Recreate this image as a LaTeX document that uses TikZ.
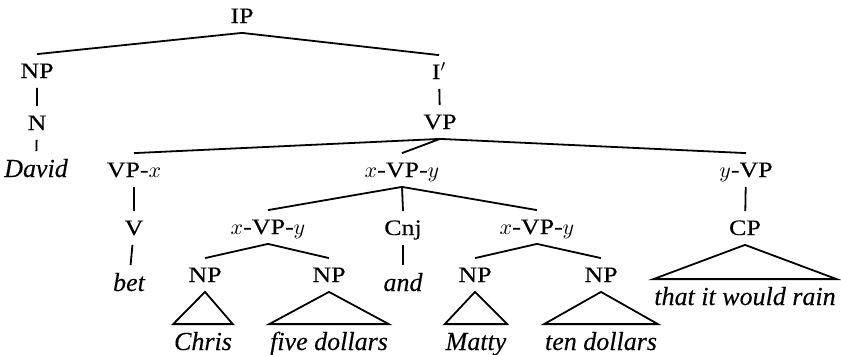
\documentclass[tikz,border=0pt]{standalone}
\usepackage{fontspec}
\setmainfont{Liberation Serif}[FakeBold=0.25]
\newfontfamily\lblfont{Liberation Serif}[FakeStretch=1.18,FakeBold=0.3]
\usepackage{tikz}

\begin{document}
\begin{tikzpicture}[x=0.5pt,y=-0.5pt,line width=0.9pt,
  l/.style={font={\lblfont\fontsize{11}{12}\selectfont},anchor=base,inner xsep=1pt,inner ysep=4.5pt,text height=7pt,text depth=0pt},
  w/.style={font={\itshape\fontsize{13}{14}\selectfont},anchor=base,inner xsep=0pt,inner ysep=3.5pt,text height=9pt,text depth=0pt}]
\useasboundingbox (0,0) rectangle (841,354);
\node[l] (ip) at (242,23) {IP};
\node[l] (np) at (37,78) {NP};
\node[l] (ib) at (439,79) {I$'$};
\node[l] (n) at (37,130) {N};
\node[l] (vp) at (440,129) {VP};
\node[w] (david) at (36,177) {David};
\node[l] (vpx) at (134,177) {VP-$x$};
\node[l] (xvpy) at (402,177) {$x$-VP-$y$};
\node[l] (yvp) at (746,177) {$y$-VP};
\node[l] (v) at (134,235) {V};
\node[l] (xl) at (268,234) {$x$-VP-$y$};
\node[l] (cnj) at (403,235) {Cnj};
\node[l] (xr) at (537,234) {$x$-VP-$y$};
\node[l] (cp) at (745,235) {CP};
\node[w] (bet) at (129,291) {bet};
\node[l] (np1) at (205,282) {NP};
\node[l] (np2) at (329,282) {NP};
\node[w] (and) at (403,291) {and};
\node[l] (np3) at (475,282) {NP};
\node[l] (np4) at (601,282) {NP};
\node[w] (rain) at (745,305) {that it would rain};
\node[w] (chris) at (203,350) {Chris};
\node[w] (five) at (329,350) {five dollars};
\node[w] (matty) at (476,350) {Matty};
\node[w] (ten) at (601,350) {ten dollars};
\draw (ip.south)--(np.north) (ip.south)--(ib.north); \draw (np)--(n) (n)--(david); \draw (ib)--(vp);
\draw (vp.south)--(vpx.north) (vp.south)--(xvpy.north) (vp.south)--(yvp.north);
\draw (vpx)--(v) (v)--(bet); \draw (yvp)--(cp);
\draw (xvpy.south)--(xl.north) (xvpy.south)--(cnj.north) (xvpy.south)--(xr.north); \draw (cnj)--(and);
\draw (xl.south)--(np1.north) (xl.south)--(np2.north); \draw (xr.south)--(np3.north) (xr.south)--(np4.north);
\draw (np1.south)--(chris.north west)--(chris.north east)--cycle; \draw (np2.south)--(five.north west)--(five.north east)--cycle;
\draw (np3.south)--(matty.north west)--(matty.north east)--cycle; \draw (np4.south)--(ten.north west)--(ten.north east)--cycle;
\draw (cp.south)--(rain.north west)--(rain.north east)--cycle;
\end{tikzpicture}
\end{document}
